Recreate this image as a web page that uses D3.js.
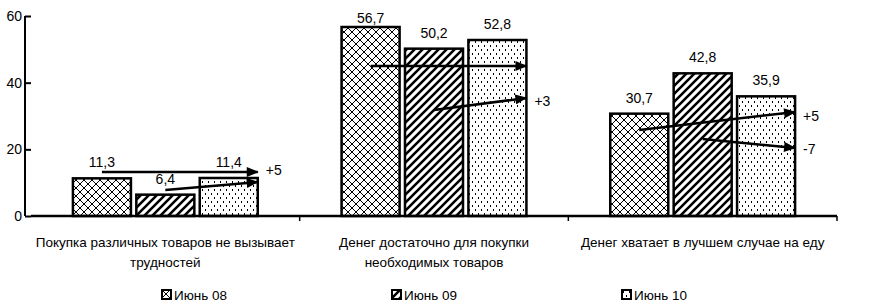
<!DOCTYPE html>
<html>
<head>
<meta charset="utf-8">
<script src="https://cdn.jsdelivr.net/npm/d3@7"></script>
<style>
	body { margin: 0; background: #fff; }
	svg { display: block; font-family: "Liberation Sans", Arial, sans-serif; }
	.axis path, .axis line { stroke: #000; stroke-width: 2; }
	.axis text { font-size: 14px; fill: #000; }
	.bar { stroke: #000; stroke-width: 2.5; }
	.value { font-size: 14px; text-anchor: middle; }
	.arrow { stroke: #000; stroke-width: 2.5; fill: none; }
	.delta { font-size: 14px; }
	.cat { font-size: 13.5px; text-anchor: middle; }
	.legend text { font-size: 13.5px; }
</style>
</head>
<body>
<div class="svg-container"></div>
<script>
var categories = [
	["Покупка различных товаров не вызывает", "трудностей"],
	["Денег достаточно для покупки", "необходимых товаров"],
	["Денег хватает в лучшем случае на еду"]
];
var seriesNames = ["Июнь 08", "Июнь 09", "Июнь 10"];
var june08 = [11.3, 56.7, 30.7];
var june09 = [6.4, 50.2, 42.8];
var june10 = [11.4, 52.8, 35.9];
var yTicks = [0, 20, 40, 60];

// change arrows: category, series the arrow starts from, start/end value, label and its level
var arrowCat = [0, 0, 1, 1, 2, 2];
var arrowFrom = [0, 1, 0, 1, 0, 1];
var arrowStart = [13.2, 7.8, 45.0, 31.8, 25.8, 23.1];
var arrowEnd = [13.2, 10.2, 45.0, 35.4, 31.2, 20.4];
var arrowLabel = ["+5", "", "", "+3", "+5", "-7"];
var arrowLabelAt = [13.8, 0, 0, 34.6, 30.0, 20.0];

var width = 885, height = 307;
var series = [june08, june09, june10];

var svg = d3.select('.svg-container')
	.append('svg')
	.attr('width', width)
	.attr('height', height);

var defs = svg.append('defs');

var cross = defs.append('pattern')
	.attr('id', 'p0')
	.attr('patternUnits', 'userSpaceOnUse')
	.attr('width', 8).attr('height', 8);
cross.append('rect').attr('width', 8).attr('height', 8).attr('fill', '#fff');
cross.append('path')
	.attr('d', 'M0,0L8,8M0,8L8,0')
	.attr('stroke', '#000').attr('stroke-width', 1).attr('fill', 'none');

var stripe = defs.append('pattern')
	.attr('id', 'p1')
	.attr('patternUnits', 'userSpaceOnUse')
	.attr('width', 8).attr('height', 8);
stripe.append('rect').attr('width', 8).attr('height', 8).attr('fill', '#fff');
stripe.append('path')
	.attr('d', 'M-2,10L10,-2M-2,2L2,-2M6,10L10,6')
	.attr('stroke', '#000').attr('stroke-width', 2.6).attr('fill', 'none');

var dots = defs.append('pattern')
	.attr('id', 'p2')
	.attr('patternUnits', 'userSpaceOnUse')
	.attr('width', 6).attr('height', 8);
dots.append('rect').attr('width', 6).attr('height', 8).attr('fill', '#fff');
dots.append('rect').attr('x', 1).attr('y', 1).attr('width', 1).attr('height', 2).attr('fill', '#000');
dots.append('rect').attr('x', 4).attr('y', 5).attr('width', 1).attr('height', 2).attr('fill', '#000');

defs.append('marker')
	.attr('id', 'head')
	.attr('viewBox', '0 0 12 10')
	.attr('refX', 11).attr('refY', 5)
	.attr('markerUnits', 'userSpaceOnUse')
	.attr('markerWidth', 13).attr('markerHeight', 10)
	.attr('orient', 'auto')
	.append('path')
	.attr('d', 'M0,0L12,5L0,10Z')
	.attr('fill', '#000');

var xScale = d3.scaleBand()
	.domain(d3.range(categories.length))
	.range([31, 837])
	.paddingInner(0.312)
	.paddingOuter(0.156);

var xInner = d3.scaleBand()
	.domain(d3.range(series.length))
	.range([0, xScale.bandwidth()])
	.paddingInner(0.085);

var yScale = d3.scaleLinear()
	.domain([0, 60])
	.range([216, 16]);

// bars
series.forEach(function(values, s) {
	svg.append('g')
		.selectAll('rect')
		.data(values)
		.enter()
		.append('rect')
		.attr('class', 'bar')
		.attr('x', function(d, i) { return xScale(i) + xInner(s); })
		.attr('y', function(d) { return yScale(d); })
		.attr('width', xInner.bandwidth())
		.attr('height', function(d) { return yScale(0) - yScale(d); })
		.attr('fill', 'url(#p' + s + ')');

	svg.append('g')
		.selectAll('text')
		.data(values)
		.enter()
		.append('text')
		.attr('class', 'value')
		.attr('x', function(d, i) { return xScale(i) + xInner(s) + xInner.bandwidth() / 2; })
		.attr('y', function(d) { return Math.max(yScale(d) - 11, 23); })
		.text(function(d) { return String(d).replace('.', ','); });
});

// arrows
arrowCat.forEach(function(c, i) {
	var x1 = xScale(c) + xInner(arrowFrom[i]) + xInner.bandwidth() / 2;
	var x2 = xScale(c) + xInner(2) + xInner.bandwidth();
	svg.append('line')
		.attr('class', 'arrow')
		.attr('x1', x1)
		.attr('y1', yScale(arrowStart[i]))
		.attr('x2', x2)
		.attr('y2', yScale(arrowEnd[i]))
		.attr('marker-end', 'url(#head)');
	if (arrowLabel[i]) {
		svg.append('text')
			.attr('class', 'delta')
			.attr('x', x2 + 8)
			.attr('y', yScale(arrowLabelAt[i]))
			.attr('dy', '0.35em')
			.text(arrowLabel[i]);
	}
});

// axes
var yAxis = d3.axisLeft(yScale)
	.tickValues(yTicks)
	.tickSize(6)
	.tickPadding(3);

svg.append('g')
	.attr('class', 'axis')
	.attr('transform', 'translate(31, 0)')
	.call(yAxis)
	.call(function(g) { g.select('.domain').attr('d', 'M-6,216V16'); });

var bounds = d3.range(categories.length + 1).map(function(i) {
	return i < categories.length ? xScale(i) - xScale.step() * xScale.paddingInner() / 2 : 837;
});
bounds[0] = 31;

svg.append('line')
	.attr('x1', 31).attr('x2', 837)
	.attr('y1', 216).attr('y2', 216)
	.attr('stroke', '#000').attr('stroke-width', 2.5);

svg.append('g')
	.selectAll('line')
	.data(bounds.slice(1))
	.enter()
	.append('line')
	.attr('x1', function(d) { return d; })
	.attr('x2', function(d) { return d; })
	.attr('y1', 216).attr('y2', 221)
	.attr('stroke', '#000').attr('stroke-width', 1.5);

// category labels
categories.forEach(function(lines, i) {
	var t = svg.append('text')
		.attr('class', 'cat')
		.attr('x', xScale(i) + xScale.bandwidth() / 2)
		.attr('y', 247);
	lines.forEach(function(line, k) {
		t.append('tspan')
			.attr('x', xScale(i) + xScale.bandwidth() / 2)
			.attr('dy', k === 0 ? 0 : 20)
			.text(line);
	});
});

// legend
var legend = svg.append('g')
	.attr('class', 'legend')
	.selectAll('g')
	.data(seriesNames)
	.enter()
	.append('g')
	.attr('transform', function(d, i) { return 'translate(' + (162 + i * 230) + ', 290)'; });

legend.append('rect')
	.attr('width', 9).attr('height', 9)
	.attr('fill', function(d, i) { return 'url(#p' + i + ')'; })
	.attr('stroke', '#000').attr('stroke-width', 2);

legend.append('text')
	.attr('x', 12)
	.attr('y', 10)
	.text(function(d) { return d; });
</script>
</body>
</html>
